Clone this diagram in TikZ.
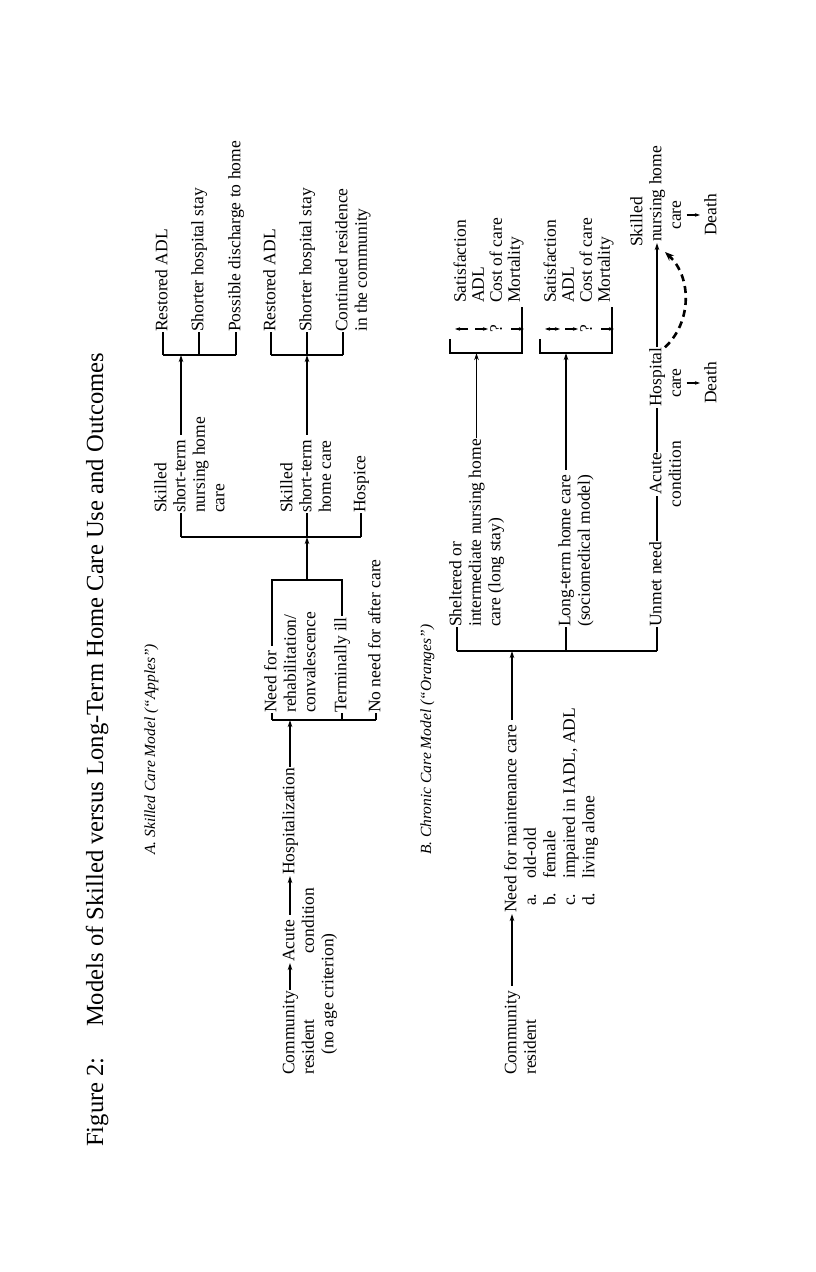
\documentclass[tikz,border=0pt]{standalone}
\usepackage{fontspec}
\setmainfont{Liberation Serif}
\usetikzlibrary{arrows.meta}
\begin{document}
\begin{tikzpicture}[
  x=1pt,y=1pt,
  txt/.style={anchor=west,inner sep=0pt,font=\fontsize{17.5}{20}\selectfont,text height=12.2pt,text depth=3.4pt},
  ctxt/.style={txt,anchor=center},
  ln/.style={line width=1.2pt},
  arr/.style={line width=1.2pt,-{Stealth[length=7pt,width=4.5pt]}},
  sarr/.style={line width=1.1pt,-{Stealth[length=5pt,width=3.5pt]}},
  dasharc/.style={line width=2.6pt,dash pattern=on 7pt off 5pt,-{Stealth[length=9pt,width=7pt]}},
  ttl/.style={anchor=base west,inner sep=0pt,font=\fontsize{24.6}{28}\selectfont},
  lab/.style={anchor=base west,inner sep=0pt,font=\fontsize{15.5}{18}\selectfont\itshape}
]
\useasboundingbox (0,0) rectangle (816,1272);
\fill[white] (0,0) rectangle (816,1272);
\begin{scope}[x=1pt,y=-1pt,rotate=90,transform shape]
% ---------- titles
\node[ttl] (title) at (125,103) {Figure 2:\hspace{0.9em} Models of Skilled versus Long-Term Home Care Use and Outcomes};
\node[lab] (labA) at (417,155) {A.\ Skilled Care Model (“Apples”)};
\node[lab] (labB) at (417,431) {B.\ Chronic Care Model (“Oranges”)};
% ---------- section A
\node[txt] (comA) at (197,290) {Community};
\node[txt] (resA) at (197,309.5) {resident};
\node[txt] (noage) at (217,329) {(no age criterion)};
\node[txt] (acuteA) at (310,290) {Acute};
\node[txt] (condA) at (318,309.5) {condition};
\node[txt] (hospA) at (397,290) {Hospitalization};
\coordinate (rbTop) at (552,272);
\coordinate (rbIn) at (552,290);
\coordinate (rbTerm) at (552,342);
\coordinate (rbBot) at (552,376);
\node[txt] (need) at (559,272) {Need for};
\node[txt] (rehab) at (559,291.5) {rehabilitation/};
\node[txt] (conv) at (559,311) {convalescence};
\node[txt] (term) at (559,342) {Terminally ill};
\node[txt] (noneed) at (559,376) {No need for after care};
\coordinate (boxA) at (692,272);
\coordinate (boxB) at (692,342);
\coordinate (boxOut) at (692,307);
\coordinate (sbTop) at (735,181);
\coordinate (sbIn) at (735,307);
\coordinate (sbBot) at (735,361);
\node[txt] (sk1) at (759,162) {Skilled};
\node[txt] (st1) at (759,181) {short-term};
\node[txt] (nh1) at (759,200.5) {nursing home};
\node[txt] (ca1) at (759,220) {care};
\node[txt] (sk2) at (759,288) {Skilled};
\node[txt] (st2) at (759,307) {short-term};
\node[txt] (hc2) at (759,326.5) {home care};
\node[txt] (hosp) at (759,361) {Hospice};
\coordinate (oaTop) at (917,163);
\coordinate (oaIn) at (917,181);
\coordinate (oaMid) at (917,199);
\coordinate (oaBot) at (917,236);
\node[txt] (r1) at (940,163) {Restored ADL};
\node[txt] (s1) at (940,199) {Shorter hospital stay};
\node[txt] (p1) at (940,236) {Possible discharge to home};
\coordinate (obTop) at (917,271);
\coordinate (obIn) at (917,307);
\coordinate (obBot) at (917,343);
\node[txt] (r2) at (940,271) {Restored ADL};
\node[txt] (s2) at (940,307) {Shorter hospital stay};
\node[txt] (c2) at (940,343) {Continued residence};
\node[txt] (c2b) at (940,362.5) {in the community};
% connectors A
\draw[arr,shorten <=1pt,shorten >=1pt] (comA.east) -- (acuteA.west);
\draw[arr,shorten <=5pt,shorten >=1pt] (acuteA.east) -- (hospA.west);
\draw[arr,shorten <=1pt] (hospA.east) -- (rbIn);
\draw[ln] (rbTop) -- (rbBot);
\draw[ln] (rbTop) -- (need.west);
\draw[ln] (rbTerm) -- (term.west);
\draw[ln] (rbBot) -- (noneed.west);
\draw[ln,shorten <=5pt,shorten >=1pt] (need.east) -- (boxA) -- (boxB) -- (term.east);
\draw[arr] (boxOut) -- (sbIn);
\draw[ln] (sbTop) -- (sbBot);
\draw[ln] (sbTop) -- (st1.west);
\draw[ln] (sbIn) -- (st2.west);
\draw[ln] (sbBot) -- (hosp.west);
\draw[arr,shorten <=5pt] (st1.east) -- (oaIn);
\draw[arr,shorten <=5pt] (st2.east) -- (obIn);
\draw[ln] (oaTop) -- (oaBot);
\draw[ln] (oaTop) -- (r1.west);
\draw[ln] (oaMid) -- (s1.west);
\draw[ln] (oaBot) -- (p1.west);
\draw[ln] (obTop) -- (obBot);
\draw[ln] (obTop) -- (r2.west);
\draw[ln] (obIn) -- (s2.west);
\draw[ln] (obBot) -- (c2.west);
% ---------- section B
\node[txt] (comB) at (197,512) {Community};
\node[txt] (resB) at (197,531.5) {resident};
\node[txt] (needM) at (359,512) {Need for maintenance care};
\node[txt] (ia) at (366,531.5) {a.};
\node[txt] (ta) at (393,531.5) {old-old};
\node[txt] (ib) at (366,551) {b.};
\node[txt] (tb) at (393,551) {female};
\node[txt] (ic) at (366,570.5) {c.};
\node[txt] (tc) at (393,570.5) {impaired in IADL, ADL};
\node[txt] (id) at (366,590) {d.};
\node[txt] (td) at (393,590) {living alone};
\coordinate (bbTop) at (621,457);
\coordinate (bbIn) at (621,512);
\coordinate (bbMid) at (621,566);
\coordinate (bbBot) at (621,657);
\node[txt] (shel) at (645,457) {Sheltered or};
\node[txt] (inter) at (645,476.5) {intermediate nursing home};
\node[txt] (longst) at (645,496) {care (long stay)};
\node[txt] (ltc) at (645,566) {Long-term home care};
\node[txt] (socio) at (645,585.5) {(sociomedical model)};
\node[txt] (unmet) at (645,657) {Unmet need};
\draw[arr,shorten <=5pt,shorten >=1pt] (comB.east) -- (needM.west);
\draw[arr,shorten <=5pt] (needM.east) -- (bbIn);
\draw[ln] (bbTop) -- (bbBot);
\draw[ln] (bbTop) -- (shel.west);
\draw[ln] (bbMid) -- (ltc.west);
\draw[ln] (bbBot) -- (unmet.west);
% outcome tables
\coordinate (taIn) at (919,476.5);
\coordinate (tbIn) at (919,566);
\draw[arr,shorten <=1pt] (inter.east) -- (taIn);
\draw[arr,shorten <=5pt] (ltc.east) -- (tbIn);
\draw[ln] (933,450) -- (919,450) -- (919,522) -- (965,522);
\draw[ln] (933,540) -- (919,540) -- (919,612) -- (965,612);
\node[txt] (ta1) at (969,461.5) {Satisfaction};
\node[txt] (ta2) at (969,479.5) {ADL};
\node[txt] (ta3) at (969,497.5) {Cost of care};
\node[txt] (ta4) at (969,515.5) {Mortality};
\node[txt] (tb1) at (969,551.5) {Satisfaction};
\node[txt] (tb2) at (969,569.5) {ADL};
\node[txt] (tb3) at (969,587.5) {Cost of care};
\node[txt] (tb4) at (969,605.5) {Mortality};
\draw[sarr] (943,468) -- (943,455);
\draw[sarr] (943,475) -- (943,488);
\node[ctxt] (qa) at (943,497.5) {?};
\draw[sarr] (943,511) -- (943,524);
\draw[sarr,{Stealth[length=5pt,width=3.5pt]}-{Stealth[length=5pt,width=3.5pt]}] (943,545) -- (943,560);
\draw[sarr] (943,565) -- (943,578);
\node[ctxt] (qb) at (943,587.5) {?};
\draw[sarr] (943,601) -- (943,614);
% unmet need row
\node[ctxt] (acuteB) at (798,657) {Acute};
\node[ctxt] (condB) at (798,676.5) {condition};
\node[txt] (hospB) at (865,657) {Hospital};
\node[ctxt] (careH) at (889,676.5) {care};
\node[ctxt] (deathH) at (889,712) {Death};
\node[txt] (skN) at (1025,638) {Skilled};
\node[txt] (nhN) at (1030,657) {nursing home};
\node[ctxt] (careN) at (1057,676.5) {care};
\node[ctxt] (deathN) at (1057,712) {Death};
\draw[ln,shorten <=1pt,shorten >=1pt] (unmet.east) -- (acuteB.west);
\draw[ln,shorten <=1pt,shorten >=1pt] (acuteB.east) -- (hospB.west);
\draw[arr,shorten >=1pt] (hospB.east) -- (nhN.west);
\draw[sarr,shorten <=2pt,shorten >=4pt] (careH.south) -- (deathH.north);
\draw[sarr,shorten <=2pt,shorten >=4pt] (careN.south) -- (deathN.north);
\draw[dasharc] (hospB.south east) .. controls (950,692) and (995,692) .. (1020,665);
\end{scope}
\end{tikzpicture}
\end{document}
